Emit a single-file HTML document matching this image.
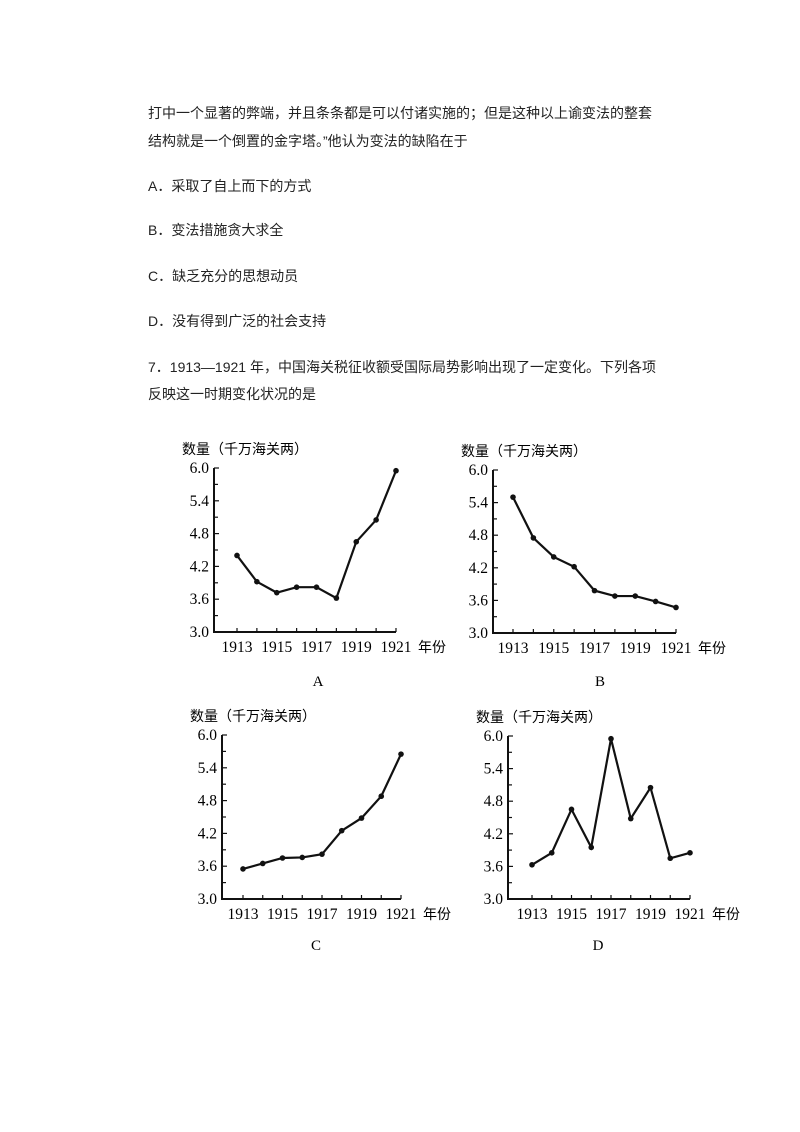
<!DOCTYPE html>
<html><head><meta charset="utf-8"><style>
body{margin:0;background:#fff;width:800px;height:1132px;position:relative;overflow:hidden;font-family:"Liberation Sans","Noto Sans CJK SC",sans-serif;color:#222}
.t{position:absolute;left:148px;font-size:14px;white-space:nowrap}
svg{position:absolute;left:0;top:0}
</style></head><body>
<div class="t" style="top:103px">打中一个显著的弊端，并且条条都是可以付诸实施的；但是这种以上谕变法的整套</div>
<div class="t" style="top:131px">结构就是一个倒置的金字塔。”他认为变法的缺陷在于</div>
<div class="t" style="top:176px">A．采取了自上而下的方式</div>
<div class="t" style="top:220px">B．变法措施贪大求全</div>
<div class="t" style="top:266px">C．缺乏充分的思想动员</div>
<div class="t" style="top:311px">D．没有得到广泛的社会支持</div>
<div class="t" style="top:357px">7．1913—1921 年，中国海关税征收额受国际局势影响出现了一定变化。下列各项</div>
<div class="t" style="top:384px">反映这一时期变化状况的是</div>
<svg id="s" width="800" height="1132" xmlns="http://www.w3.org/2000/svg"></svg>
<script>
const charts=[
 {ax:214,top:468,bot:632,x0:237,x1:396,lab:"A",lx:318,ly:686,v:[4.4,3.92,3.72,3.82,3.82,3.62,4.65,5.05,5.95]},
 {ax:493,top:470,bot:633,x0:513,x1:676,lab:"B",lx:600,ly:686,v:[5.5,4.75,4.4,4.22,3.78,3.68,3.68,3.58,3.47]},
 {ax:222,top:735,bot:899,x0:243,x1:401,lab:"C",lx:316,ly:950,v:[3.55,3.65,3.75,3.76,3.82,4.25,4.48,4.88,5.65]},
 {ax:508,top:736,bot:899,x0:532,x1:690,lab:"D",lx:598,ly:950,v:[3.63,3.85,4.65,3.95,5.95,4.48,5.05,3.75,3.85]}];
let h="";
for(const c of charts){
 const Y=v=>c.top+(6-v)/3*(c.bot-c.top), X=i=>c.x0+i*(c.x1-c.x0)/8;
 h+=`<text x="${c.ax-32}" y="${c.top-14}" font-size="14" font-family="Noto Sans CJK SC,sans-serif">数量（千万海关两）</text>`;
 h+=`<path d="M${c.ax} ${c.top}V${c.bot}H${c.x1}" stroke="#111" stroke-width="2" fill="none"/>`;
 for(let k=0;k<=10;k++){const y=Y(3+k*0.3);h+=`<line x1="${c.ax}" x2="${c.ax+(k%2?4:5)}" y1="${y}" y2="${y}" stroke="#111" stroke-width="1.2"/>`;}
 for(let k=0;k<=5;k++){h+=`<text x="${c.ax-5}" y="${Y(3+k*0.6)+5}" text-anchor="end" font-size="15.5" font-family="Liberation Serif,serif">${(3+k*0.6).toFixed(1)}</text>`;}
 for(let i=0;i<9;i++){h+=`<line x1="${X(i)}" x2="${X(i)}" y1="${c.bot}" y2="${c.bot-4}" stroke="#111" stroke-width="1.2"/>`;if(i%2==0)h+=`<text x="${X(i)}" y="${c.bot+20}" text-anchor="middle" font-size="15.5" font-family="Liberation Serif,serif">${1913+i}</text>`;}
 h+=`<text x="${c.x1+22}" y="${c.bot+20}" font-size="14" font-family="Noto Sans CJK SC,sans-serif">年份</text>`;
 h+=`<polyline points="${c.v.map((v,i)=>X(i)+","+Y(v)).join(" ")}" fill="none" stroke="#111" stroke-width="2.2"/>`;
 c.v.forEach((v,i)=>h+=`<circle cx="${X(i)}" cy="${Y(v)}" r="2.8" fill="#111"/>`);
 h+=`<text x="${c.lx}" y="${c.ly}" text-anchor="middle" font-size="15" font-family="Liberation Serif,serif">${c.lab}</text>`;
}
document.getElementById("s").innerHTML=h;
</script>
</body></html>
